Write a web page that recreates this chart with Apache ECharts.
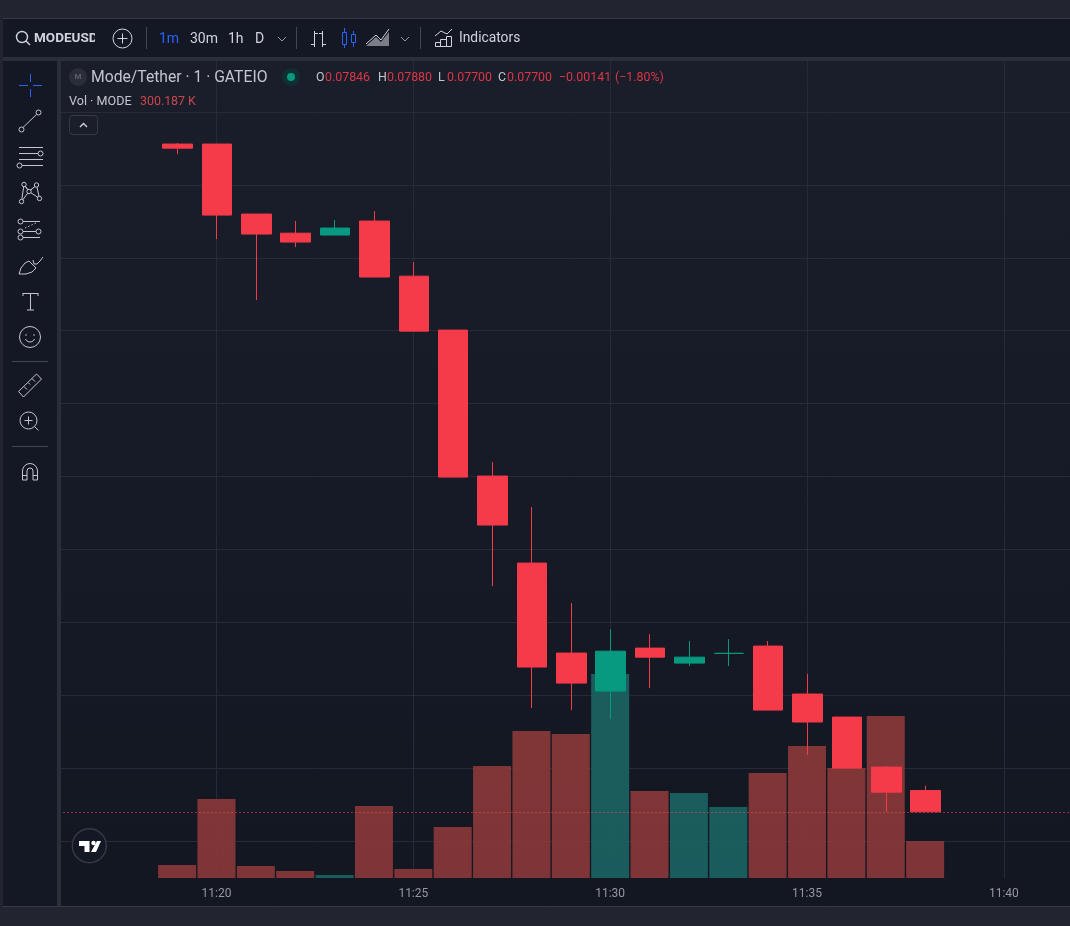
<!DOCTYPE html>
<html><head><meta charset="utf-8">
<style>html,body{margin:0;padding:0;background:#22252f;overflow:hidden;width:1070px;height:926px}#c{width:1100px;height:926px}</style>
<script src="https://cdn.jsdelivr.net/npm/echarts@6/dist/echarts.min.js"></script>
</head><body><div id="c"></div>
<script>
const times = ['11:16','11:17','11:18','11:19','11:20','11:21','11:22','11:23','11:24','11:25','11:26','11:27','11:28','11:29','11:30','11:31','11:32','11:33','11:34','11:35','11:36','11:37','11:38','11:39','11:40','11:41','11:42'];
const E=['-','-','-','-'];
// [open, close, low, high], blanks for minutes with no trade yet
const candles = [
 E,E,E,
 [0.12280,0.12252,0.12211,0.12287],
 [0.12280,0.11793,0.11628,0.12280],
 [0.11800,0.11663,0.11210,0.11800],
 [0.11669,0.11608,0.11573,0.11752],
 [0.11656,0.11704,0.11656,0.11759],
 [0.11752,0.11368,0.11368,0.11820],
 [0.11374,0.10997,0.10997,0.11470],
 [0.11004,0.09996,0.09996,0.11004],
 [0.10003,0.09667,0.09248,0.10099],
 [0.09406,0.08693,0.08412,0.09790],
 [0.08789,0.08583,0.08398,0.09132],
 [0.08528,0.08802,0.08336,0.08953],
 [0.08823,0.08761,0.08549,0.08919],
 [0.08720,0.08761,0.08700,0.08871],
 [0.08787,0.08787,0.08700,0.08885],
 [0.08837,0.08398,0.08398,0.08871],
 [0.08508,0.08316,0.08089,0.08645],
 [0.08350,0.08000,0.08000,0.08350],
 [0.08007,0.07835,0.07700,0.08014],
 [0.07846,0.07700,0.07700,0.07880],
 E,E,E,E
];
const volumes = ['-','-','-',105000,641000,97000,57000,24000,584000,73000,414000,909000,1193000,1168000,1655000,706000,690000,576000,852000,1071000,892000,1314000,300187,'-','-','-','-'];
const volumeRising = [0,0,0,0,0,0,0,1,0,0,0,0,0,0,1,0,1,1,0,0,0,0,0];
const lastPrice = 0.077;

const UP='#089981', DOWN='#f53a4a', BG='#141824', LINE='#272b37', ICON='#c4c6cc';
const g=[];
const Z=50;
const rect=(x,y,w,h,fill,stroke,r)=>g.push({type:'rect',z:Z,silent:true,shape:{x,y,width:w,height:h,r:r||0},style:{fill:fill||'none',stroke:stroke||'none',lineWidth:1}});
const line=(x1,y1,x2,y2,c,w,dash)=>g.push({type:'line',z:Z+1,silent:true,shape:{x1,y1,x2,y2},style:{stroke:c||ICON,lineWidth:w||1,lineDash:dash||null}});
const circ=(cx,cy,r,fill,stroke,w)=>g.push({type:'circle',z:Z+2,silent:true,shape:{cx,cy,r},style:{fill:fill||'none',stroke:stroke||'none',lineWidth:w||1}});
const poly=(pts,c,w)=>g.push({type:'polyline',z:Z+1,silent:true,shape:{points:pts},style:{stroke:c||ICON,lineWidth:w||1,fill:'none'}});
const fillp=(pts,fill,stroke)=>g.push({type:'polygon',z:Z+1,silent:true,shape:{points:pts},style:{fill:fill||'none',stroke:stroke||'none',lineWidth:1}});
const arc=(cx,cy,r,a,b,c)=>g.push({type:'arc',z:Z+1,silent:true,shape:{cx,cy,r,startAngle:a,endAngle:b},style:{stroke:c||ICON,lineWidth:1,fill:'none'}});
const txt=(s,x,y,fill,size,weight,z)=>g.push({type:'text',z:z||Z+3,silent:true,x,y:y+1.5,style:{text:s,fill,font:(weight||'normal')+' '+size+'px Roboto',textVerticalAlign:'middle',textAlign:'left'}});

// plot background: soft vertical gradient
g.push({type:'rect',z:-1,silent:true,shape:{x:0,y:60,width:1100,height:820},style:{fill:{type:'linear',x:0,y:0,x2:0,y2:1,colorStops:[{offset:0,color:'#1a1e2a'},{offset:1,color:'#131722'}]}}});

// page chrome
rect(0,0,1100,18,'#22252f');
rect(0,907,1100,19,'#22252f');
rect(0,18,3,890,'#22252f');
rect(3,19,1100,38,BG);
rect(3,57,1100,4,'#2a2e39');
rect(3,61,54,846,BG);
rect(57,61,4,846,'#2a2e39');
line(3,18.5,1100,18.5,'#363a45');
line(3,906.5,1100,906.5,'#363a45');

// top toolbar
circ(22,37,5.5,null,'#d1d4dc',1.4); line(26,41,30,45,'#d1d4dc',1.4);
txt('MODEUSDT',34,37.5,'#d1d4dc',13.5,'bold');
g.push({type:'rect',z:Z+4,silent:true,shape:{x:95,y:24,width:16,height:28},style:{fill:BG}});
circ(122.5,38.5,9.5,null,'#d1d4dc'); line(117.5,38.5,127.5,38.5,'#d1d4dc'); line(122.5,33.5,122.5,43.5,'#d1d4dc');
line(146.5,27,146.5,49,'#434651');
txt('1m',159,37.5,'#2962ff',14);
txt('30m',190,37.5,'#d1d4dc',14);
txt('1h',228,37.5,'#d1d4dc',14);
txt('D',255,37.5,'#d1d4dc',14);
poly([[278,37],[282,41],[286,37]],'#9598a1');
line(296.5,27,296.5,49,'#434651');
// bar icon
line(314.5,31,314.5,47,'#d1d4dc'); line(311,44.5,314.5,44.5,'#d1d4dc'); line(314.5,33.5,318,33.5,'#d1d4dc');
line(322.5,31,322.5,47,'#d1d4dc'); line(319,33.5,322.5,33.5,'#d1d4dc'); line(322.5,44.5,326,44.5,'#d1d4dc');
// candle icon
const BL='#2962ff';
rect(342.5,32.5,4,12,null,BL); line(344.5,28,344.5,32,BL); line(344.5,45,344.5,48,BL);
rect(351.5,34.5,4,8,null,BL); line(353.5,31,353.5,34,BL); line(353.5,43,353.5,47,BL);
// area icon
fillp([[366,46],[376,37],[381,42],[389,32],[389,46]],'#7b7e87');
poly([[366,44],[376,35],[381,40],[389,29]],'#d1d4dc');
poly([[401,37],[405,41],[409,37]],'#9598a1');
line(420.5,27,420.5,49,'#434651');
// indicators icon
poly([[435,36],[441,31],[447,34],[452,29]],'#d1d4dc');
rect(435.5,42.5,5,4,null,'#d1d4dc'); rect(440.5,39.5,6,7,null,'#d1d4dc'); rect(446.5,36.5,5,10,null,'#d1d4dc');
txt('Indicators',459,37.5,'#d1d4dc',13.8);

// left toolbar
const B='#2962ff';
line(30.5,74,30.5,82,B); line(30.5,89,30.5,97,B); line(19,85.5,28,85.5,B); line(33,85.5,42,85.5,B);
line(23,127.5,37,114,ICON); circ(21.5,129.5,2.5,BG,ICON); circ(38.5,112.5,2.5,BG,ICON);
line(19,147.5,43,147.5); line(19,153.5,38,153.5); line(19,159.5,43,159.5); line(22,165.5,43,165.5);
circ(40.5,153.5,2.5,BG,ICON); circ(19.5,165.5,2.5,BG,ICON);
poly([[21.5,201.5],[24,184.5],[29,191.5],[36.5,185],[39.5,198.5],[29,191.5],[21.5,201.5]]); line(24,184.5,29,191.5); line(36.5,185,29,191.5);
[[24,184.5],[36.5,185],[29,191.5],[21.5,201.5],[39.5,198.5]].forEach(p=>circ(p[0],p[1],2.2,BG,ICON));
line(22,221.5,40,221.5); line(22,231.5,37,231.5); line(22,237.5,40,237.5); line(25,228,36,223,ICON,1,[1.5,2]);
circ(20.5,221.5,2.5,BG,ICON); circ(20.5,231.5,2.5,BG,ICON); circ(38.5,231.5,2.5,BG,ICON); circ(20.5,237.5,2.5,BG,ICON);
poly([[19,274],[21,268],[25,263],[29,261],[36,268],[32,272],[26,274],[19,274]]);
poly([[33,260],[34,264],[37,264],[40,261],[43,257]]);
line(23,293.5,38,293.5); line(30.5,293.5,30.5,310); line(27,310,34,310); line(23,293,23,296); line(38,293,38,296);
circ(30,337,10.5,null,ICON); circ(26,335,0.8,ICON); circ(34,335,0.8,ICON); arc(30,337,5,0.4,2.74);
line(12,361.5,48,361.5,'#434651');
fillp([[18.5,391.5],[36.5,374],[41.5,379],[23.5,397]],null,ICON);
[[24,386.5,27,389.5],[28,382.5,30,384.5],[32,378.5,35,381.5]].forEach(a=>line(a[0],a[1],a[2],a[3]));
circ(28.5,420.5,8.5,null,ICON); line(24.5,420.5,32.5,420.5); line(28.5,416.5,28.5,424.5); line(34.5,426.5,38.5,430.5);
line(12,446.5,48,446.5,'#434651');
arc(30,471,7.5,Math.PI,0); arc(30,471,3,Math.PI,0);
line(22.5,471,22.5,480); line(27,471,27,480); line(33,471,33,480); line(37.5,471,37.5,480); line(22.5,480,27,480); line(33,480,37.5,480); line(22.5,475.5,27,475.5); line(33,475.5,37.5,475.5);

// legend
circ(78,77,9,'#2a2e39'); txt('M',74.5,75.5,'#5d606b',8,'bold');
txt('Mode/Tether · 1 · GATEIO',91,77,'#c3c6ce',15.7);
circ(291,77,9,'#0e3033'); circ(291,77,4,UP);
const RED='#dc3545', LT='#c3c6ce';
[['O',316,LT],['0.07846',325,RED],['H',378,LT],['0.07880',387,RED],['L',438,LT],['0.07700',447,RED],['C',498,LT],['0.07700',507,RED],['−0.00141',559,RED],['(−1.80%)',615,RED]].forEach(a=>txt(a[0],a[1],76.5,a[2],12.4));
txt('Vol · MODE',69,100.5,'#c3c6ce',12.6);
txt('300.187 K',140,100.5,'#c8474f',12.4);
rect(69.5,115.5,28,19,'#1a1e2a','#363a45',3);
poly([[80,127],[83.5,123.5],[87,127]],'#d1d4dc',1.4);

// watermark
circ(89.3,845.7,17,'#141824','#363a45',1.4);
g.push({type:'polygon',z:Z+3,silent:true,shape:{points:[[79,841],[89.5,841],[89.5,852],[84.5,852],[84.5,846],[79,846]]},style:{fill:'#fff'}});
g.push({type:'circle',z:Z+3,silent:true,shape:{cx:93.5,cy:843,r:2.2},style:{fill:'#fff'}});
g.push({type:'polygon',z:Z+3,silent:true,shape:{points:[[97,841],[101,841],[96,852],[91,852]]},style:{fill:'#fff'}});

const every5=(i,v)=>+v.slice(-2)%5===0;
const chart=echarts.init(document.getElementById('c'),null,{renderer:'canvas',width:1100,height:926});
chart.setOption({
 animation:false,backgroundColor:'#131722',
 grid:[{left:59,width:1023.6,top:60,height:818},{left:59.5,width:1023.6,top:112,height:729}],
 xAxis:[
  {type:'category',gridIndex:0,data:times,boundaryGap:false,axisLine:{show:false},axisTick:{show:false},
   axisLabel:{interval:every5,color:'#9598a1',fontSize:12,fontFamily:'Roboto',margin:10},
   splitLine:{show:true,interval:every5,lineStyle:{color:LINE,width:1}}},
  {type:'category',gridIndex:1,data:times,boundaryGap:false,axisLine:{show:false},axisTick:{show:false},axisLabel:{show:false},splitLine:{show:false}}
 ],
 yAxis:[
  {type:'value',gridIndex:0,min:0,max:6636000,axisLine:{show:false},axisTick:{show:false},axisLabel:{show:false},splitLine:{show:false}},
  {type:'value',gridIndex:1,min:0.075,max:0.125,interval:0.005,axisLine:{show:false},axisTick:{show:false},axisLabel:{show:false},splitLine:{show:true,lineStyle:{color:LINE,width:1}}}
 ],
 series:[
  {type:'bar',xAxisIndex:0,yAxisIndex:0,data:volumes,barWidth:38,z:2,silent:true,
   itemStyle:{color:p=>volumeRising[p.dataIndex]?'rgba(28,100,100,.9)':'rgba(140,56,58,.9)'}},
  {type:'candlestick',xAxisIndex:1,yAxisIndex:1,data:candles,barWidth:30,z:3,silent:true,
   itemStyle:{color:UP,color0:DOWN,borderColor:UP,borderColor0:DOWN,borderColorDoji:UP,borderWidth:1,borderJoin:'miter'},
   markLine:{silent:true,symbol:'none',precision:5,label:{show:false},lineStyle:{color:'#ff4a5a',type:[1,3],width:1},data:[{yAxis:lastPrice}],z:4}}
 ],
 graphic:{elements:g}
});
</script></body></html>
